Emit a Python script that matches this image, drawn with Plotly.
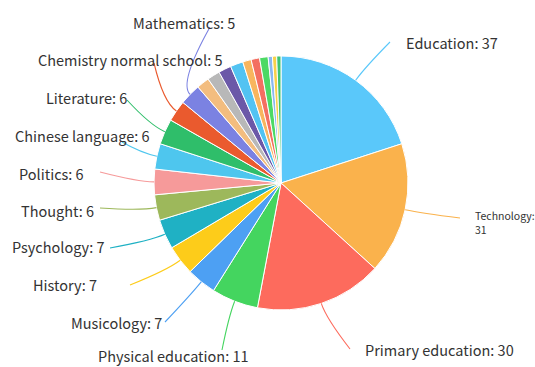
import math
import plotly.graph_objects as go

labels = ["Education", "Technology", "Primary education", "Physical education",
          "Musicology", "History", "Psychology", "Thought", "Politics",
          "Chinese language", "Literature", "Chemistry normal school", "Mathematics",
          "Other A", "Other B", "Other C", "Other D", "Other E", "Other F",
          "Other G", "Other H", "Other I", "Other J"]
values = [37, 31, 30, 11, 7, 7, 7, 6, 6, 6, 6, 5, 5,
          3, 3, 3, 3, 2, 2, 2, 1, 1, 1]
shown = 13  # labelled slices
colors = ["#5AC8FA", "#FAB24C", "#FD6B5D", "#44D55F", "#4DA0F3", "#FDCC1A",
          "#1FB1C4", "#9DB85B", "#F69A9A", "#4EC6EE", "#2FBE6A", "#EA5A2E",
          "#7B82E2", "#F3BD7F", "#B8B8B8", "#6B58A8", "#52C3F2", "#F8B55E",
          "#F36F61", "#4CD964", "#8AB8F0", "#F7D04A", "#3EC472"]

W, H = 535, 367
CX, CY, R = 281, 183, 127

# label anchor (where leader line ends), text anchor position, alignment
label_ends = [(390, 42), (460, 218), (350, 349), (222, 350), (165, 322),
              (130, 285), (110, 248), (100, 208), (100, 172), (122, 142),
              (127, 100), (154, 63), (210, 27)]
text_pos = [(404, 42, "left"), (473, 222, "left"), (363, 349, "left"),
            (173, 355, "center"), (164, 322, "right"), (99, 284, "right"),
            (107, 247, "right"), (96, 210, "right"), (86, 173, "right"),
            (152, 135, "right"), (129, 97, "right"), (225, 59, "right"),
            (184, 22, "center")]

def px(x):
    return x / W

def py(y):
    return 1 - y / H

fig = go.Figure(go.Pie(
    labels=labels, values=values, sort=False, direction="clockwise",
    rotation=0, textinfo="none", hoverinfo="label+value",
    marker=dict(colors=colors, line=dict(color="white", width=1)),
    domain=dict(x=[px(CX - R), px(CX + R)], y=[py(CY + R), py(CY - R)]),
    showlegend=False,
))

total = sum(values)
shapes, annotations = [], []
cum = 0.0
for i, v in enumerate(values):
    mid = (cum + v / 2) / total * 2 * math.pi
    cum += v
    if i >= shown:
        continue
    dx, dy = math.sin(mid), -math.cos(mid)
    sx, sy = CX + R * dx, CY + R * dy
    ex_, ey_ = CX + (R + 16) * dx, CY + (R + 16) * dy
    lx, ly = label_ends[i]
    shapes.append(dict(
        type="path", xref="paper", yref="paper",
        path=f"M {px(sx)} {py(sy)} Q {px(ex_)} {py(ey_)} {px(lx)} {py(ly)}",
        line=dict(color=colors[i], width=1.1)))
    tx, ty, al = text_pos[i]
    if labels[i] == "Technology":
        txt = f"{labels[i]}:<br>{v}"
        size = 10.5
    else:
        txt = f"{labels[i]}: {v}"
        size = 14.5
    annotations.append(dict(
        x=px(tx), y=py(ty), xref="paper", yref="paper", text=txt,
        showarrow=False, xanchor=al, yanchor="middle", align="left",
        font=dict(size=size, color="#333333", family="Noto Sans CJK SC")))

fig.update_layout(
    width=W, height=H, margin=dict(l=0, r=0, t=0, b=0),
    paper_bgcolor="white", plot_bgcolor="white",
    shapes=shapes, annotations=annotations,
)

fig.write_html("out.html")
